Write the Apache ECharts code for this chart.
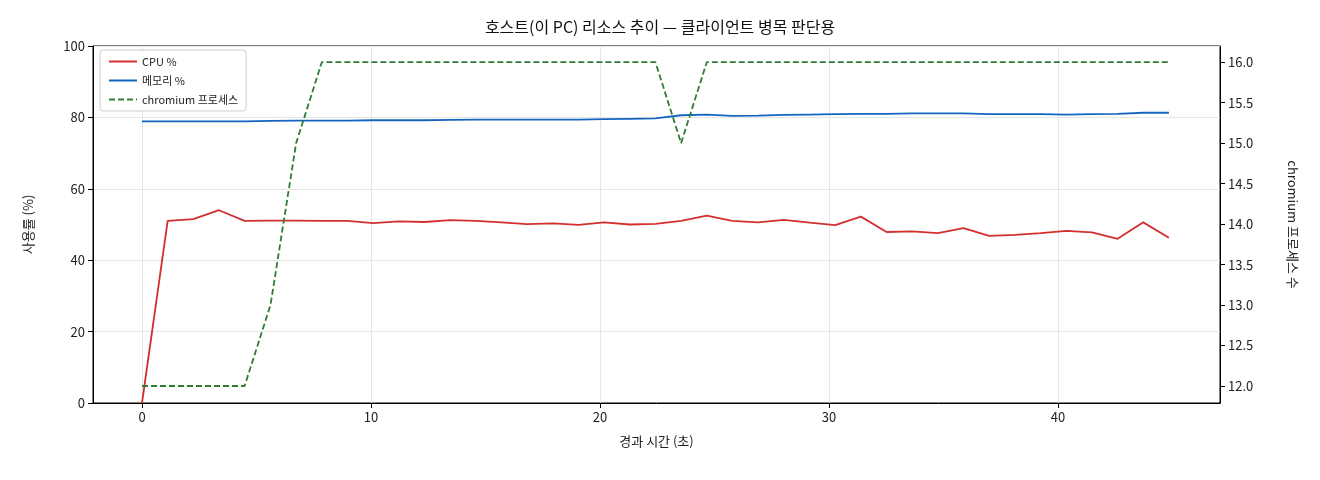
<!DOCTYPE html>
<html><head><meta charset="utf-8">
<script src="https://cdn.jsdelivr.net/npm/echarts@6/dist/echarts.min.js"></script>
<style>html,body{margin:0;padding:0;background:#fff}#c{width:1320px;height:480px}</style>
</head><body><div id="c"></div>
<script>
const times = [0,1.12,2.24,3.36,4.48,5.61,6.73,7.85,8.97,10.09,11.21,12.33,13.45,14.57,15.69,16.82,17.94,19.06,20.18,21.3,22.42,23.54,24.66,25.78,26.9,28.03,29.15,30.27,31.39,32.51,33.63,34.75,35.87,36.99,38.11,39.24,40.36,41.48,42.6,43.72,44.84];
const cpu = [0,51,51.5,54,51,51.1,51.1,51,51,50.4,50.9,50.7,51.2,51,50.6,50.1,50.3,49.9,50.6,50,50.2,51,52.5,51,50.6,51.3,50.5,49.8,52.2,47.9,48.1,47.6,49,46.8,47.1,47.6,48.2,47.8,46,50.6,46.3];
const mem = [78.9,78.9,78.9,78.9,78.9,79,79.1,79.1,79.1,79.2,79.2,79.2,79.3,79.4,79.4,79.4,79.4,79.4,79.5,79.6,79.7,80.6,80.8,80.4,80.5,80.7,80.8,80.9,81,81,81.1,81.1,81.1,80.9,80.9,80.9,80.8,80.9,81,81.3,81.3];
const chrom = [12,12,12,12,12,13,15,16,16,16,16,16,16,16,16,16,16,16,16,16,16,15,16,16,16,16,16,16,16,16,16,16,16,16,16,16,16,16,16,16,16];
const xTicks = [0,10,20,30,40];
const rightTicks = [12,12.5,13,13.5,14,14.5,15,15.5,16];
const pair = (a)=>times.map((t,i)=>[t,a[i]]);
const F = '"Noto Sans CJK KR", "DejaVu Sans", sans-serif';
const chart = echarts.init(document.getElementById('c'));
chart.setOption({
  animation:false,
  textStyle:{fontFamily:F,color:'#222'},
  title:{text:'호스트(이 PC) 리소스 추이 — 클라이언트 병목 판단용',left:'center',top:14,textStyle:{fontFamily:F,fontSize:16,fontWeight:'normal',color:'#111'}},
  grid:{left:93,right:100,top:46,bottom:77,show:true,borderColor:'#000',borderWidth:1},
  legend:{orient:'vertical',left:100,top:50,itemWidth:28,itemHeight:10,itemGap:8,
    borderColor:'#ccc',borderWidth:1,borderRadius:3,padding:[6,8],backgroundColor:'rgba(255,255,255,0.85)',
    itemStyle:{opacity:0},
    textStyle:{fontFamily:F,fontSize:11,color:'#222'},
    data:['CPU %','메모리 %','chromium 프로세스']},
  xAxis:{type:'value',min:-2.14,max:47.07,name:'경과 시간 (초)',nameLocation:'middle',nameGap:32,
    nameTextStyle:{fontSize:13,color:'#222'},
    axisLine:{onZero:false,lineStyle:{color:'#000'}},
    axisTick:{show:true,customValues:xTicks,length:5,lineStyle:{color:'#000'}},
    axisLabel:{customValues:xTicks,fontSize:13,color:'#222',margin:8},
    splitLine:{show:true,lineStyle:{color:'#e6e6e6'}}},
  yAxis:[
    {type:'value',min:0,max:100,interval:20,name:'사용률 (%)',nameLocation:'middle',nameGap:58,nameRotate:90,
     nameTextStyle:{fontSize:13,color:'#222'},
     axisLine:{show:true,onZero:false,lineStyle:{color:'#000'}},axisTick:{show:true,length:5,lineStyle:{color:'#000'}},
     axisLabel:{fontSize:13,color:'#222'},splitLine:{show:true,lineStyle:{color:'#e6e6e6'}}},
    {type:'value',min:11.79,max:16.2,position:'right',name:'chromium 프로세스 수',nameLocation:'middle',nameGap:66,nameRotate:-90,
     nameTextStyle:{fontSize:13,color:'#222'},
     axisLine:{show:true,onZero:false,lineStyle:{color:'#000'}},
     axisTick:{show:true,customValues:rightTicks,length:5,lineStyle:{color:'#000'}},
     axisLabel:{customValues:rightTicks,fontSize:13,color:'#222',formatter:v=>v.toFixed(1)},
     splitLine:{show:false}}
  ],
  series:[
    {name:'CPU %',type:'line',data:pair(cpu),symbol:'none',lineStyle:{color:'#d32f2f',width:1.8},itemStyle:{color:'#d32f2f'}},
    {name:'메모리 %',type:'line',data:pair(mem),symbol:'none',lineStyle:{color:'#1565c0',width:1.8},itemStyle:{color:'#1565c0'}},
    {name:'chromium 프로세스',type:'line',yAxisIndex:1,data:pair(chrom),symbol:'none',lineStyle:{color:'#2e7d32',width:1.8,type:[6,3]},itemStyle:{color:'#2e7d32'}}
  ]
});
</script></body></html>
